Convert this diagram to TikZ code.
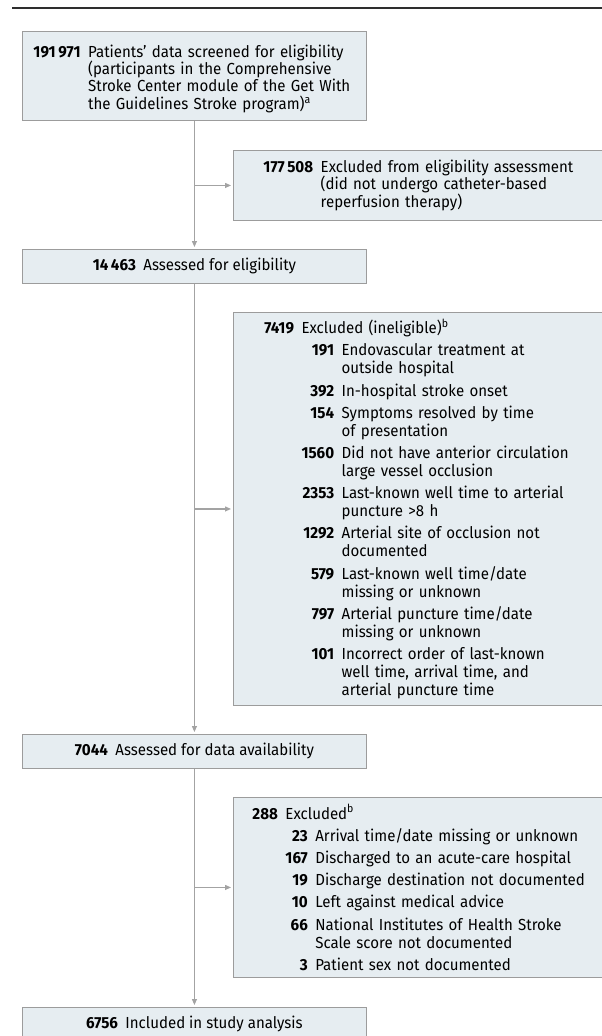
\documentclass[tikz,border=0pt]{standalone}
\usepackage{fontspec}
\setmainfont{Fira Sans}[FakeStretch=0.94]
\newfontfamily\numfont{Fira Sans}[FakeStretch=0.95]
\usetikzlibrary{arrows.meta}
\definecolor{boxfill}{HTML}{E6EDF1}
\definecolor{boxline}{HTML}{9C9C9C}
\definecolor{linec}{HTML}{A3A3A3}
\definecolor{rulec}{HTML}{2E2E2E}
\newcommand\fs{\fontsize{16}{17.4}\selectfont\lineskiplimit=-50pt\lineskip=0pt\parindent=0pt}
\newcommand\fsl{\fontsize{16}{18}\selectfont\lineskiplimit=-50pt\lineskip=0pt\parindent=0pt}
\newcommand\gp{\\[4.2pt]}
\newcommand\nm[1]{{\numfont\bfseries #1}}
\newcommand\ths{\hspace{2.6pt}}
\newlength\wa
\newlength\wb
\newcommand\numgap{\hspace*{7.5pt}}
\newcommand\hd[2]{\makebox[\wa][r]{\nm{#1}}\numgap #2}
\newcommand\cta[1]{\hspace*{\wa}\numgap #1}
\newcommand\sbi[2]{\hspace*{\wa}\numgap\makebox[\wb][r]{\nm{#1}}\numgap #2}
\newcommand\ctb[1]{\hspace*{\wa}\numgap\hspace*{\wb}\numgap #1}
\tikzset{
  boxl/.style={draw=boxline, fill=boxfill, line width=0.9pt, anchor=north west,
    inner ysep=0pt, align=left, font=\fs},
  boxc/.style={draw=boxline, fill=boxfill, line width=0.9pt, anchor=north west,
    inner sep=0pt, minimum width=344pt, minimum height=34pt, align=center, font=\fs},
  conn/.style={draw=linec, line width=1.1pt, -{Triangle[length=6pt,width=5pt]}, shorten >=2pt}
}
\begin{document}
\begin{tikzpicture}[x=1pt,y=-1pt]
\useasboundingbox (0,0) rectangle (602,1036);
\clip (0,0) rectangle (602,1036);
\draw[rulec, line width=1.3pt] (12,8) -- (604,8);

\node[boxl, inner xsep=11pt, text width=322pt, minimum width=344pt, minimum height=89pt] (b1) at (22,31)
 {\settowidth\wa{\nm{191\ths971}}%
  \rule{0pt}{18pt}\hd{191\ths971}{Patients’ data screened for eligibility}\\
  \cta{(participants in the Comprehensive}\\
  \cta{Stroke Center module of the Get With}\\
  \cta{the Guidelines Stroke program)\textsuperscript{a}}};

\node[boxl, inner xsep=30pt, text width=313pt, minimum width=373pt, minimum height=70pt] (b2) at (233,150)
 {\settowidth\wa{\nm{177\ths508}}%
  \hd{177\ths508}{Excluded from eligibility assessment}\\
  \cta{(did not undergo catheter-based}\\
  \cta{reperfusion therapy)}};

\node[boxc] (b3) at (22,249) {\nm{14\ths463}\hspace{7.5pt}Assessed for eligibility};

\node[boxl, font=\fsl, inner xsep=31pt, text width=311pt, minimum width=373pt, minimum height=393pt] (b4) at (233,312)
 {\settowidth\wa{\nm{7419}}\settowidth\wb{\nm{1560}}%
  \hd{7419}{Excluded (ineligible)\textsuperscript{b}}\gp
  \sbi{191}{Endovascular treatment at}\\
  \ctb{outside hospital}\gp
  \sbi{392}{In-hospital stroke onset}\gp
  \sbi{154}{Symptoms resolved by time}\\
  \ctb{of presentation}\gp
  \sbi{1560}{Did not have anterior circulation}\\
  \ctb{large vessel occlusion}\gp
  \sbi{2353}{Last-known well time to arterial}\\
  \ctb{puncture >8 h}\gp
  \sbi{1292}{Arterial site of occlusion not}\\
  \ctb{documented}\gp
  \sbi{579}{Last-known well time/date}\\
  \ctb{missing or unknown}\gp
  \sbi{797}{Arterial puncture time/date}\\
  \ctb{missing or unknown}\gp
  \sbi{101}{Incorrect order of last-known}\\
  \ctb{well time, arrival time, and}\\
  \ctb{arterial puncture time}};

\node[boxc] (b5) at (22,734) {\nm{7044}\hspace{7.5pt}Assessed for data availability};

\node[boxl, font=\fsl, inner xsep=19pt, text width=335pt, minimum width=373pt, minimum height=180pt] (b6) at (233,797)
 {\settowidth\wa{\nm{288}}\settowidth\wb{\nm{167}}%
  \hd{288}{Excluded\textsuperscript{b}}\gp
  \sbi{23}{Arrival time/date missing or unknown}\gp
  \sbi{167}{Discharged to an acute-care hospital}\gp
  \sbi{19}{Discharge destination not documented}\gp
  \sbi{10}{Left against medical advice}\gp
  \sbi{66}{National Institutes of Health Stroke}\\
  \ctb{Scale score not documented}\gp
  \sbi{3}{Patient sex not documented}};

\node[boxc] (b7) at (22,1007) {\nm{6756}\hspace{7.5pt}Included in study analysis};

\draw[conn] (b1.south) -- (b3.north);
\draw[conn] (b1.south |- b2.west) -- (b2.west);
\draw[conn] (b3.south) -- (b5.north);
\draw[conn] (b3.south |- b4.west) -- (b4.west);
\draw[conn] (b5.south) -- (b7.north);
\draw[conn] (b5.south |- b6.west) -- (b6.west);
\end{tikzpicture}
\end{document}
